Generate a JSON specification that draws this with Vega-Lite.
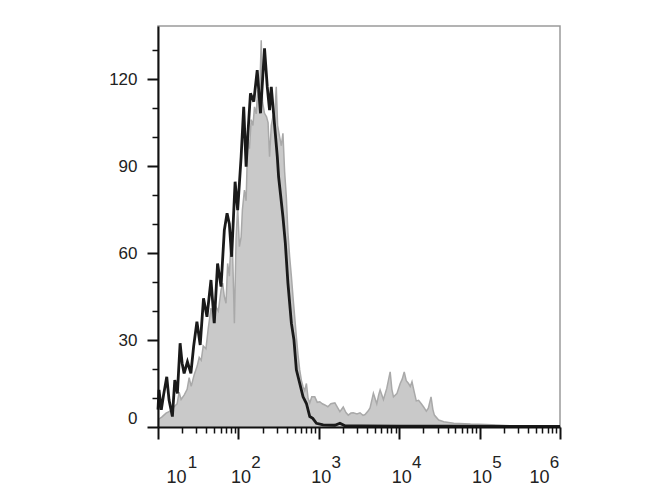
{
  "$schema": "https://vega.github.io/schema/vega-lite/v6.json",
  "width": 402,
  "height": 401,
  "autosize": {"type": "none"},
  "padding": {"left": 158, "top": 26, "right": 110, "bottom": 73},
  "background": "white",
  "config": {
    "view": {"stroke": "#9a9a9a", "strokeWidth": 1.5},
    "axis": {"grid": false, "labelFont": "Liberation Sans", "labelColor": "#222222", "domainColor": "#111111", "tickColor": "#111111", "title": null}
  },
  "data": {"values": [
    {"sample": "control", "log10FL": 1.0, "count": 2.5},
    {"sample": "control", "log10FL": 1.05, "count": 3.5},
    {"sample": "control", "log10FL": 1.1, "count": 4.8},
    {"sample": "control", "log10FL": 1.15, "count": 5.5},
    {"sample": "control", "log10FL": 1.2, "count": 7},
    {"sample": "control", "log10FL": 1.2375, "count": 8},
    {"sample": "control", "log10FL": 1.2625, "count": 12},
    {"sample": "control", "log10FL": 1.2875, "count": 9.5},
    {"sample": "control", "log10FL": 1.325, "count": 11},
    {"sample": "control", "log10FL": 1.3625, "count": 13},
    {"sample": "control", "log10FL": 1.3875, "count": 17},
    {"sample": "control", "log10FL": 1.4125, "count": 14},
    {"sample": "control", "log10FL": 1.45, "count": 18},
    {"sample": "control", "log10FL": 1.4875, "count": 21},
    {"sample": "control", "log10FL": 1.5125, "count": 24},
    {"sample": "control", "log10FL": 1.5375, "count": 23},
    {"sample": "control", "log10FL": 1.5625, "count": 28},
    {"sample": "control", "log10FL": 1.596, "count": 27},
    {"sample": "control", "log10FL": 1.625, "count": 34},
    {"sample": "control", "log10FL": 1.659, "count": 41},
    {"sample": "control", "log10FL": 1.6875, "count": 36},
    {"sample": "control", "log10FL": 1.721, "count": 41.5},
    {"sample": "control", "log10FL": 1.75, "count": 40},
    {"sample": "control", "log10FL": 1.784, "count": 47.2},
    {"sample": "control", "log10FL": 1.804, "count": 49.6},
    {"sample": "control", "log10FL": 1.825, "count": 45},
    {"sample": "control", "log10FL": 1.846, "count": 42.7},
    {"sample": "control", "log10FL": 1.866, "count": 56.4},
    {"sample": "control", "log10FL": 1.8875, "count": 52},
    {"sample": "control", "log10FL": 1.909, "count": 66},
    {"sample": "control", "log10FL": 1.929, "count": 58.7},
    {"sample": "control", "log10FL": 1.95, "count": 35.8},
    {"sample": "control", "log10FL": 1.971, "count": 65},
    {"sample": "control", "log10FL": 1.991, "count": 76},
    {"sample": "control", "log10FL": 2.0125, "count": 62.2},
    {"sample": "control", "log10FL": 2.034, "count": 65.6},
    {"sample": "control", "log10FL": 2.05, "count": 75},
    {"sample": "control", "log10FL": 2.075, "count": 81.7},
    {"sample": "control", "log10FL": 2.096, "count": 78},
    {"sample": "control", "log10FL": 2.116, "count": 99},
    {"sample": "control", "log10FL": 2.1375, "count": 96},
    {"sample": "control", "log10FL": 2.159, "count": 106},
    {"sample": "control", "log10FL": 2.181, "count": 104},
    {"sample": "control", "log10FL": 2.2, "count": 110.4},
    {"sample": "control", "log10FL": 2.221, "count": 108},
    {"sample": "control", "log10FL": 2.241, "count": 116.2},
    {"sample": "control", "log10FL": 2.2625, "count": 113},
    {"sample": "control", "log10FL": 2.284, "count": 133.4},
    {"sample": "control", "log10FL": 2.3, "count": 112},
    {"sample": "control", "log10FL": 2.325, "count": 108.2},
    {"sample": "control", "log10FL": 2.35, "count": 107},
    {"sample": "control", "log10FL": 2.369, "count": 105},
    {"sample": "control", "log10FL": 2.3875, "count": 93.2},
    {"sample": "control", "log10FL": 2.409, "count": 104},
    {"sample": "control", "log10FL": 2.429, "count": 107},
    {"sample": "control", "log10FL": 2.45, "count": 106},
    {"sample": "control", "log10FL": 2.471, "count": 117.3},
    {"sample": "control", "log10FL": 2.4875, "count": 104},
    {"sample": "control", "log10FL": 2.5125, "count": 100.1},
    {"sample": "control", "log10FL": 2.534, "count": 97},
    {"sample": "control", "log10FL": 2.554, "count": 101.3},
    {"sample": "control", "log10FL": 2.575, "count": 88},
    {"sample": "control", "log10FL": 2.596, "count": 79.4},
    {"sample": "control", "log10FL": 2.616, "count": 67},
    {"sample": "control", "log10FL": 2.6375, "count": 58.7},
    {"sample": "control", "log10FL": 2.659, "count": 52},
    {"sample": "control", "log10FL": 2.679, "count": 44.9},
    {"sample": "control", "log10FL": 2.7, "count": 38},
    {"sample": "control", "log10FL": 2.721, "count": 31.1},
    {"sample": "control", "log10FL": 2.741, "count": 25},
    {"sample": "control", "log10FL": 2.7625, "count": 19.7},
    {"sample": "control", "log10FL": 2.784, "count": 16},
    {"sample": "control", "log10FL": 2.804, "count": 13.9},
    {"sample": "control", "log10FL": 2.825, "count": 12.5},
    {"sample": "control", "log10FL": 2.846, "count": 15},
    {"sample": "control", "log10FL": 2.866, "count": 10},
    {"sample": "control", "log10FL": 2.8875, "count": 8.3},
    {"sample": "control", "log10FL": 2.9125, "count": 10.4},
    {"sample": "control", "log10FL": 2.95, "count": 10.4},
    {"sample": "control", "log10FL": 2.981, "count": 8.5},
    {"sample": "control", "log10FL": 3.0125, "count": 8.7},
    {"sample": "control", "log10FL": 3.044, "count": 8},
    {"sample": "control", "log10FL": 3.075, "count": 7.6},
    {"sample": "control", "log10FL": 3.1125, "count": 7},
    {"sample": "control", "log10FL": 3.15, "count": 8},
    {"sample": "control", "log10FL": 3.2, "count": 8.3},
    {"sample": "control", "log10FL": 3.2375, "count": 6.5},
    {"sample": "control", "log10FL": 3.2625, "count": 5.3},
    {"sample": "control", "log10FL": 3.304, "count": 6.9},
    {"sample": "control", "log10FL": 3.3375, "count": 5},
    {"sample": "control", "log10FL": 3.366, "count": 4.1},
    {"sample": "control", "log10FL": 3.4, "count": 4.8},
    {"sample": "control", "log10FL": 3.429, "count": 4.9},
    {"sample": "control", "log10FL": 3.475, "count": 4.5},
    {"sample": "control", "log10FL": 3.5125, "count": 4.9},
    {"sample": "control", "log10FL": 3.55, "count": 4},
    {"sample": "control", "log10FL": 3.575, "count": 4.3},
    {"sample": "control", "log10FL": 3.6125, "count": 5.5},
    {"sample": "control", "log10FL": 3.6375, "count": 6.6},
    {"sample": "control", "log10FL": 3.679, "count": 11.6},
    {"sample": "control", "log10FL": 3.721, "count": 8},
    {"sample": "control", "log10FL": 3.744, "count": 11},
    {"sample": "control", "log10FL": 3.7625, "count": 12.8},
    {"sample": "control", "log10FL": 3.804, "count": 9.5},
    {"sample": "control", "log10FL": 3.846, "count": 13.4},
    {"sample": "control", "log10FL": 3.8875, "count": 19},
    {"sample": "control", "log10FL": 3.909, "count": 13},
    {"sample": "control", "log10FL": 3.929, "count": 10.4},
    {"sample": "control", "log10FL": 3.971, "count": 11.5},
    {"sample": "control", "log10FL": 4.0125, "count": 15},
    {"sample": "control", "log10FL": 4.0375, "count": 16.5},
    {"sample": "control", "log10FL": 4.0625, "count": 19},
    {"sample": "control", "log10FL": 4.0875, "count": 16},
    {"sample": "control", "log10FL": 4.116, "count": 15},
    {"sample": "control", "log10FL": 4.1375, "count": 14},
    {"sample": "control", "log10FL": 4.159, "count": 15.6},
    {"sample": "control", "log10FL": 4.1875, "count": 12},
    {"sample": "control", "log10FL": 4.2125, "count": 9},
    {"sample": "control", "log10FL": 4.241, "count": 9.2},
    {"sample": "control", "log10FL": 4.275, "count": 8},
    {"sample": "control", "log10FL": 4.304, "count": 6.9},
    {"sample": "control", "log10FL": 4.3375, "count": 5.5},
    {"sample": "control", "log10FL": 4.3625, "count": 6.5},
    {"sample": "control", "log10FL": 4.396, "count": 10.4},
    {"sample": "control", "log10FL": 4.419, "count": 6},
    {"sample": "control", "log10FL": 4.4375, "count": 4.1},
    {"sample": "control", "log10FL": 4.491, "count": 2.4},
    {"sample": "control", "log10FL": 4.554, "count": 1.8},
    {"sample": "control", "log10FL": 4.679, "count": 1.3},
    {"sample": "control", "log10FL": 4.8875, "count": 1},
    {"sample": "control", "log10FL": 5.075, "count": 0.9},
    {"sample": "control", "log10FL": 5.221, "count": 0.7},
    {"sample": "control", "log10FL": 5.3875, "count": 0.4},
    {"sample": "control", "log10FL": 5.6375, "count": 0.3},
    {"sample": "control", "log10FL": 5.825, "count": 0.3},
    {"sample": "control", "log10FL": 6.0, "count": 0.3},
    {"sample": "stained", "log10FL": 1.0, "count": 6},
    {"sample": "stained", "log10FL": 1.0125, "count": 12.8},
    {"sample": "stained", "log10FL": 1.041, "count": 5.9},
    {"sample": "stained", "log10FL": 1.069, "count": 11},
    {"sample": "stained", "log10FL": 1.109, "count": 17.3},
    {"sample": "stained", "log10FL": 1.1375, "count": 9.3},
    {"sample": "stained", "log10FL": 1.179, "count": 3.6},
    {"sample": "stained", "log10FL": 1.209, "count": 16.2},
    {"sample": "stained", "log10FL": 1.241, "count": 11.6},
    {"sample": "stained", "log10FL": 1.275, "count": 28.9},
    {"sample": "stained", "log10FL": 1.3, "count": 22},
    {"sample": "stained", "log10FL": 1.325, "count": 18.5},
    {"sample": "stained", "log10FL": 1.366, "count": 22.5},
    {"sample": "stained", "log10FL": 1.409, "count": 18.5},
    {"sample": "stained", "log10FL": 1.444, "count": 28},
    {"sample": "stained", "log10FL": 1.484, "count": 36.3},
    {"sample": "stained", "log10FL": 1.525, "count": 28.3},
    {"sample": "stained", "log10FL": 1.566, "count": 44.4},
    {"sample": "stained", "log10FL": 1.609, "count": 38},
    {"sample": "stained", "log10FL": 1.659, "count": 50.7},
    {"sample": "stained", "log10FL": 1.7, "count": 35.8},
    {"sample": "stained", "log10FL": 1.741, "count": 56.4},
    {"sample": "stained", "log10FL": 1.784, "count": 48.4},
    {"sample": "stained", "log10FL": 1.825, "count": 67.9},
    {"sample": "stained", "log10FL": 1.859, "count": 73.7},
    {"sample": "stained", "log10FL": 1.8875, "count": 70},
    {"sample": "stained", "log10FL": 1.916, "count": 58.7},
    {"sample": "stained", "log10FL": 1.959, "count": 84.6},
    {"sample": "stained", "log10FL": 1.991, "count": 74.8},
    {"sample": "stained", "log10FL": 2.034, "count": 93.2},
    {"sample": "stained", "log10FL": 2.066, "count": 110.4},
    {"sample": "stained", "log10FL": 2.096, "count": 89.8},
    {"sample": "stained", "log10FL": 2.116, "count": 100.1},
    {"sample": "stained", "log10FL": 2.15, "count": 115.1},
    {"sample": "stained", "log10FL": 2.191, "count": 112.2},
    {"sample": "stained", "log10FL": 2.234, "count": 123.1},
    {"sample": "stained", "log10FL": 2.275, "count": 108.2},
    {"sample": "stained", "log10FL": 2.325, "count": 130.6},
    {"sample": "stained", "log10FL": 2.359, "count": 117.3},
    {"sample": "stained", "log10FL": 2.3875, "count": 109.3},
    {"sample": "stained", "log10FL": 2.409, "count": 117.3},
    {"sample": "stained", "log10FL": 2.441, "count": 107},
    {"sample": "stained", "log10FL": 2.484, "count": 93.2},
    {"sample": "stained", "log10FL": 2.5, "count": 86.3},
    {"sample": "stained", "log10FL": 2.525, "count": 80},
    {"sample": "stained", "log10FL": 2.554, "count": 72.5},
    {"sample": "stained", "log10FL": 2.584, "count": 63.3},
    {"sample": "stained", "log10FL": 2.616, "count": 49.6},
    {"sample": "stained", "log10FL": 2.659, "count": 35.8},
    {"sample": "stained", "log10FL": 2.691, "count": 30},
    {"sample": "stained", "log10FL": 2.721, "count": 19.7},
    {"sample": "stained", "log10FL": 2.7625, "count": 15.1},
    {"sample": "stained", "log10FL": 2.804, "count": 10.4},
    {"sample": "stained", "log10FL": 2.846, "count": 8.1},
    {"sample": "stained", "log10FL": 2.8875, "count": 3.6},
    {"sample": "stained", "log10FL": 2.925, "count": 3},
    {"sample": "stained", "log10FL": 2.971, "count": 1.3},
    {"sample": "stained", "log10FL": 3.054, "count": 0.7},
    {"sample": "stained", "log10FL": 3.2, "count": 0.6},
    {"sample": "stained", "log10FL": 3.2625, "count": 1.3},
    {"sample": "stained", "log10FL": 3.325, "count": 0.4},
    {"sample": "stained", "log10FL": 3.51, "count": 0.4},
    {"sample": "stained", "log10FL": 4.01, "count": 0.3},
    {"sample": "stained", "log10FL": 4.64, "count": 0.3},
    {"sample": "stained", "log10FL": 5.26, "count": 0.2},
    {"sample": "stained", "log10FL": 6.0, "count": 0.2}
  ]},
  "layer": [
    {
      "transform": [{"filter": "datum.sample == 'control'"}],
      "mark": {"type": "area", "color": "#c9c9c9"},
      "encoding": {
        "x": {"field": "log10FL", "type": "quantitative", "scale": {"domain": [1, 6], "nice": false},
          "axis": {"orient": "bottom", "values": [1, 2, 3, 4, 5, 6], "tickSize": 12, "tickWidth": 2, "domainWidth": 2,
            "labelExpr": "'10'", "labelFontSize": 18, "labelBaseline": "alphabetic", "labelPadding": 43,
            "labelFlush": false, "labelOverlap": false, "zindex": 1,
            "labelOffset": {"condition": [{"test": "datum.value == 1", "value": 18}, {"test": "datum.value == 6", "value": -21}], "value": 2}}},
        "y": {"field": "count", "type": "quantitative", "scale": {"domain": [0, 138.3], "nice": false},
          "axis": {"orient": "left", "values": [0, 30, 60, 90, 120], "tickSize": 11, "tickWidth": 2, "domainWidth": 2,
            "labelFontSize": 17, "labelPadding": 10, "labelFlush": true, "labelOverlap": false, "zindex": 1}}
      }
    },
    {
      "transform": [{"filter": "datum.sample == 'control'"}],
      "mark": {"type": "line", "color": "#a9a9a9", "strokeWidth": 1.5},
      "encoding": {
        "x": {"field": "log10FL", "type": "quantitative",
          "axis": {"orient": "bottom", "labels": false, "domain": false, "tickSize": 6, "tickWidth": 1.5, "zindex": 1,
            "values": [1.30103, 1.47712, 1.60206, 1.69897, 1.77815, 1.8451, 1.90309, 1.95424,
                       2.30103, 2.47712, 2.60206, 2.69897, 2.77815, 2.8451, 2.90309, 2.95424,
                       3.30103, 3.47712, 3.60206, 3.69897, 3.77815, 3.8451, 3.90309, 3.95424,
                       4.30103, 4.47712, 4.60206, 4.69897, 4.77815, 4.8451, 4.90309, 4.95424,
                       5.30103, 5.47712, 5.60206, 5.69897, 5.77815, 5.8451, 5.90309, 5.95424]}},
        "y": {"field": "count", "type": "quantitative",
          "axis": {"orient": "left", "labels": false, "domain": false, "tickSize": 6, "tickWidth": 1.5, "zindex": 1,
            "values": [10, 20, 40, 50, 70, 80, 100, 110, 130]}}
      }
    },
    {
      "transform": [{"filter": "datum.sample == 'stained'"}],
      "mark": {"type": "line", "color": "#1a1a1a", "strokeWidth": 2.8},
      "encoding": {
        "x": {"field": "log10FL", "type": "quantitative",
          "axis": {"orient": "bottom", "values": [1, 2, 3, 4, 5, 6], "ticks": false, "tickSize": 0, "domain": false,
            "labelExpr": "format(datum.value, 'd')", "labelFontSize": 17, "labelBaseline": "alphabetic", "labelPadding": 40,
            "labelFlush": false, "labelOverlap": false,
            "labelOffset": {"condition": [{"test": "datum.value == 1", "value": 34}, {"test": "datum.value == 6", "value": -6}], "value": 17}}},
        "y": {"field": "count", "type": "quantitative", "axis": null}
      }
    }
  ],
  "resolve": {"axis": {"x": "independent", "y": "independent"}}
}
